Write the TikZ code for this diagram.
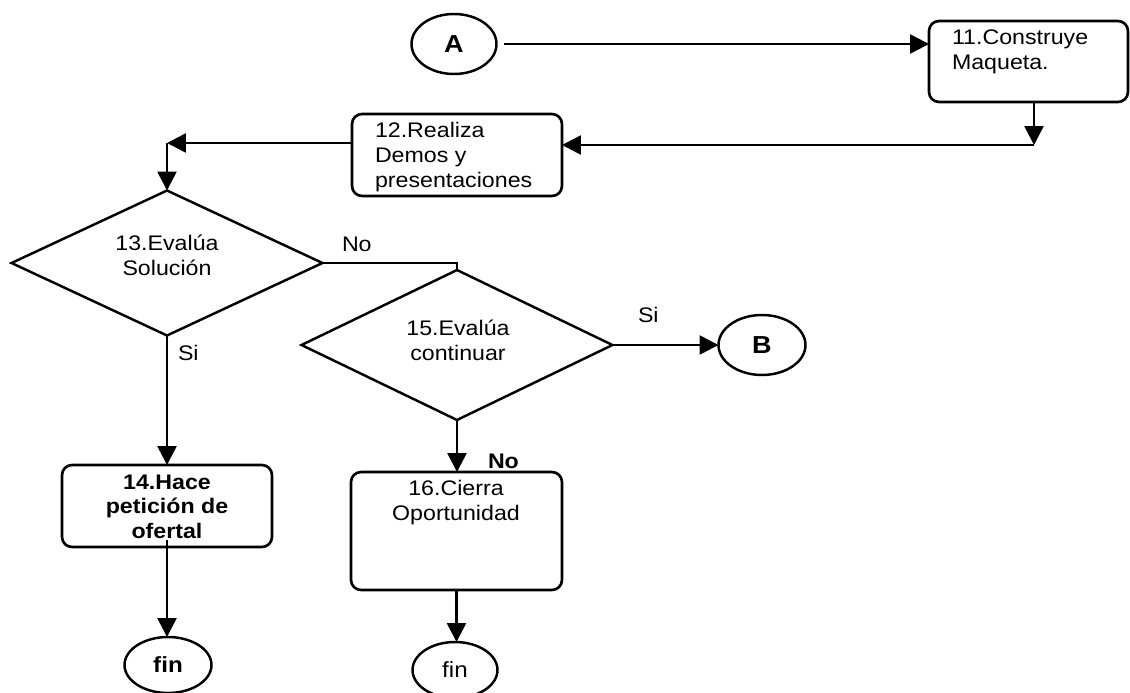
\documentclass[tikz,border=0pt]{standalone}
\usepackage{fontspec}
\setmainfont{Liberation Sans}[FakeStretch=1.1]
\usetikzlibrary{arrows.meta,shapes.geometric}

\begin{document}
\begin{tikzpicture}[x=0.02cm, y=-0.02cm,
  every node/.style={inner sep=0pt, outer sep=0pt},
  txt/.style={font=\fontsize{12}{14.45}\selectfont},
  stepbox/.style={draw, line width=1.5pt, rounded corners=0.2cm, rectangle},
  decision/.style={draw, line width=1.4pt, diamond},
  terminal/.style={draw, line width=1.4pt, ellipse},
  arr/.style={line width=1.5pt, -{Triangle[length=0.38cm, width=0.38cm]}},
  conn/.style={line width=1.5pt}
]
\useasboundingbox[fill=white] (0,0) rectangle (1130,693);

% connectors A and B
\node[terminal, minimum width=1.7cm, minimum height=1.2cm] (A) at (454,44) {};
\node[font=\fontsize{14}{16}\selectfont\bfseries] at (A) {A};
\node[terminal, minimum width=1.74cm, minimum height=1.2cm] (B) at (762,345) {};
\node[font=\fontsize{14}{16}\selectfont\bfseries] at (B) {B};

% process boxes
\node[stepbox, minimum width=3.98cm, minimum height=1.62cm] (p11) at (1028.5,61.5) {};
\node[txt, align=left, anchor=north west] at (952,29.8) {11.Construye\\Maqueta.};

\node[stepbox, minimum width=4.2cm, minimum height=1.64cm] (p12) at (457,155) {};
\node[txt, align=left, anchor=north west] at (375,121.8) {12.Realiza\\Demos y\\presentaciones};

\node[stepbox, minimum width=4.2cm, minimum height=1.64cm] (p14) at (167,506) {};
\node[txt, align=center, anchor=north, font=\fontsize{12}{14}\selectfont\bfseries] at (167,474.8) {14.Hace\\petición de\\ofertal};

\node[stepbox, minimum width=4.22cm, minimum height=2.36cm] (p16) at (456.5,531) {};
\node[txt, align=center, anchor=north] at (456,479.8) {16.Cierra\\Oportunidad};

% decisions
\node[decision, minimum width=6.22cm, minimum height=2.9cm] (d13) at (167,263) {};
\node[txt, align=center, anchor=north] at (167,234.8) {13.Evalúa\\Solución};

\node[decision, minimum width=6.22cm, minimum height=3.0cm] (d15) at (457,345) {};
\node[txt, align=center, anchor=north] at (458,319.8) {15.Evalúa\\continuar};

% end points
\node[terminal, minimum width=1.74cm, minimum height=1.12cm] (fin1) at (168,665) {};
\node[font=\fontsize{12.5}{14}\selectfont\bfseries] at (fin1) {fin};
\node[terminal, minimum width=1.7cm, minimum height=1.12cm] (fin2) at (455,670) {};
\node[font=\fontsize{12.5}{14}\selectfont] at (fin2) {fin};

% corner points of the routed lines
\coordinate (c1) at (1034,145);
\coordinate (c2) at (167,143);

% flow
\draw[arr, shorten <=0.16cm] (A.east) -- (A.east -| p11.west);
\draw[arr] (p11.south -| c1) -- (c1);
\draw[arr] (c1) -- (c1 -| p12.east);
\draw[arr] (p12.west |- c2) -- (c2);
\draw[arr] (c2) -- (d13.north);
\draw[arr] (d13.south) -- (p14.north);
\draw[conn] (d13.east) -| (d15.north);
\draw[arr] (d15.east) -- (B.west);
\draw[arr] (d15.south) -- (d15.south |- p16.north);
\draw[arr] ([yshift=0.14cm]p14.south) -- (p14.south |- fin1.north);
\draw[arr] (p16.south) -- (p16.south |- fin2.north);

% branch labels
\node[txt, anchor=base west] at (342,251) {No};
\node[txt, anchor=base west] at (178,360) {Si};
\node[txt, anchor=base west] at (638,322) {Si};
\node[txt, anchor=base west, font=\fontsize{12}{14}\selectfont\bfseries] at (488,468) {No};
\end{tikzpicture}
\end{document}
